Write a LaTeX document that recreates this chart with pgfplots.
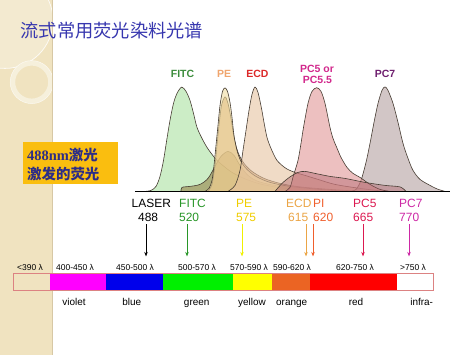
\documentclass[border=0pt]{standalone}
\usepackage{pgfplots}
\pgfplotsset{compat=1.18}
\usepackage{fontspec}
\setmainfont{Liberation Sans}
\newfontfamily\cjk{Noto Sans CJK SC}
\newfontfamily\tnr{Liberation Serif}
\usetikzlibrary{arrows.meta}
\definecolor{strip}{RGB}{240,227,192}
\definecolor{stripl}{RGB}{246,240,220}
\definecolor{stripe}{RGB}{215,200,165}
\definecolor{titleblue}{RGB}{55,55,175}
\definecolor{boxc}{RGB}{250,190,15}
\definecolor{boxt}{RGB}{45,45,135}
\definecolor{outl}{RGB}{70,60,50}
\definecolor{cfitc}{RGB}{170,225,160}
\definecolor{cpe}{RGB}{240,220,160}
\definecolor{cpeb}{RGB}{205,150,90}
\definecolor{chump}{RGB}{140,110,50}
\definecolor{cecd}{RGB}{230,195,160}
\definecolor{cpc5}{RGB}{225,150,150}
\definecolor{cpc5t}{RGB}{170,90,100}
\definecolor{cpc7}{RGB}{180,160,160}
\definecolor{lfitc}{RGB}{60,140,60}
\definecolor{lpe}{RGB}{240,165,110}
\definecolor{lecd}{RGB}{220,40,40}
\definecolor{lpc5}{RGB}{210,40,140}
\definecolor{lpc7}{RGB}{110,30,110}
\definecolor{afitc}{RGB}{40,150,40}
\definecolor{ape}{RGB}{240,205,0}
\definecolor{apea}{RGB}{240,240,0}
\definecolor{aecd}{RGB}{235,165,70}
\definecolor{api}{RGB}{240,95,45}
\definecolor{apc5}{RGB}{220,25,80}
\definecolor{apc7}{RGB}{205,40,165}
\definecolor{cviolet}{RGB}{255,0,255}
\definecolor{cblue}{RGB}{0,0,235}
\definecolor{cgreen}{RGB}{0,240,0}
\definecolor{cyellow}{RGB}{255,255,0}
\definecolor{corange}{RGB}{235,100,35}
\definecolor{cred}{RGB}{255,0,0}
\definecolor{barout}{RGB}{220,130,130}
\begin{document}
\begin{tikzpicture}
\begin{axis}[x=1bp,y=1bp,y dir=reverse,xmin=0,xmax=474,ymin=0,ymax=355,
  hide axis,clip=false,scale only axis]
% background
\addplot[fill=white,draw=none] coordinates {(0,0)(474,0)(474,355)(0,355)} -- cycle;
\addplot[fill=strip,draw=none] coordinates {(0,0)(52,0)(52,355)(0,355)} -- cycle;
\begin{scope}
\clip (axis cs:0,0) rectangle (axis cs:52,355);
\fill[stripl,opacity=0.6] (axis cs:5,20) circle [radius=48bp];
\draw[white,opacity=0.8,line width=0.8pt] (axis cs:5,20) circle [radius=48bp];
\draw[stripl,line width=5pt] (axis cs:31.7,81.7) circle [radius=19bp];
\draw[white,opacity=0.7,line width=0.5pt] (axis cs:31.7,81.7) circle [radius=21.5bp];
\end{scope}
\addplot[draw=stripe,line width=0.8pt] coordinates {(52.5,0)(52.5,355)};
% title
\node[anchor=west,text=titleblue,inner sep=0pt] at (axis cs:20.5,30) {\cjk\fontsize{18.3}{20}\selectfont 流式常用荧光染料光谱};
% box
\addplot[fill=boxc,draw=none] coordinates {(23,142)(118,142)(118,184)(23,184)} -- cycle;
\node[anchor=west,text=boxt,inner sep=0pt] at (axis cs:27,155) {\fontsize{14.5}{16}\selectfont{\tnr\bfseries 488nm}{\cjk\bfseries 激光}};
\node[anchor=west,text=boxt,inner sep=0pt] at (axis cs:27,174) {\cjk\bfseries\fontsize{14.5}{16}\selectfont 激发的荧光};
% spectra
\addplot[fill=cfitc,fill opacity=0.6,draw=outl,line width=0.6pt,smooth,tension=0.5] coordinates {
(145,191)(151,190)(156,186)(160,176)(163.5,160)(167,138)(170,120)(173.5,103)(177,93)(181.7,86.7)(186,91)(190,100)(193.5,113)(197,127)(202,138)(207,147)(212,154)(217,160)(224,166)(232,172)(244,178)(260,183.5)(282,187.5)(310,189.5)(340,191)} -- cycle;
\addplot[fill=chump,fill opacity=0.5,draw=outl,line width=0.6pt,smooth,tension=0.5] coordinates {
(181,191)(182,187)(190,186)(200,184)(208,178)(215,166)(221,156)(228,151)(234,155)(240,165)(248,175)(258,181)(275,185)(300,188)(330,190)(361,191)} -- cycle;
\addplot[fill=cpeb,fill opacity=0.6,draw=outl,line width=0.6pt,smooth,tension=0.5] coordinates {
(208,191)(212,184)(215,165)(217,145)(219,125)(221.5,105)(225,96.5)(228,103)(231,118)(234,137)(238,152)(244,163)(252,171)(264,178)(280,183)(300,186.5)(330,189)(361,191)} -- cycle;
\addplot[fill=cpe,fill opacity=0.6,draw=outl,line width=0.6pt,smooth,tension=0.5] coordinates {
(205,191)(209,188)(212,180)(214,165)(216,145)(218,125)(220,105)(222.5,91)(225,87.5)(227.5,91)(230,102)(232,117)(234,135)(237,150)(241,161)(247,169)(256,176)(270,182)(290,186)(320,189)(350,191)} -- cycle;
\addplot[fill=cecd,fill opacity=0.6,draw=outl,line width=0.6pt,smooth,tension=0.5] coordinates {
(228,191)(235,185)(240,170)(243,150)(246,130)(249,110)(252,94)(255,86.7)(258,92)(261.5,108)(264,122)(267,137)(271,148)(277,160)(286,168)(295,172)(305,175)(318,179)(335,184)(360,188)(385,191)} -- cycle;
\addplot[fill=cpc7,fill opacity=0.6,draw=outl,line width=0.6pt,smooth,tension=0.5] coordinates {
(350,191)(356,189)(361,180)(366,162)(370,143)(374,122)(378,103)(382,90)(385,86.5)(388,90)(393,103)(398,122)(403,143)(408,158)(413,170)(420,179)(430,185)(437,188.5)(445,191)} -- cycle;
\addplot[fill=cpc5,fill opacity=0.6,draw=outl,line width=0.6pt,smooth,tension=0.5] coordinates {
(285,191)(290,187)(293.5,175)(298,160)(301,143)(303.5,127)(308,103)(312,91)(316.7,87.3)(321,91)(325,103)(330,127)(333,138)(336.7,147)(341,157)(347,167)(353,173)(360,177)(370,184)(380,189)(390,191)} -- cycle;
\addplot[fill=cpc5t,fill opacity=0.4,draw=outl,line width=0.6pt,smooth,tension=0.5] coordinates {
(275,191)(282,183)(290,176.5)(298,172)(305,171)(315,173)(330,176)(345,178)(365,182)(385,185)(400,186.5)(406,191)} -- cycle;
% baseline
\addplot[black,line width=1.2pt] coordinates {(135,191.5)(450,191.5)};
% curve labels
\node[text=lfitc,font=\fontsize{10.5}{12}\selectfont\bfseries] at (axis cs:182.5,74) {FITC};
\node[text=lpe,font=\fontsize{10.5}{12}\selectfont\bfseries] at (axis cs:224,74) {PE};
\node[text=lecd,font=\fontsize{10.5}{12}\selectfont\bfseries] at (axis cs:257.5,74) {ECD};
\node[text=lpc5,font=\fontsize{10.5}{12}\selectfont\bfseries] at (axis cs:317,68.5) {PC5 or};
\node[text=lpc5,font=\fontsize{10.5}{12}\selectfont\bfseries] at (axis cs:317.5,80) {PC5.5};
\node[text=lpc7,font=\fontsize{10.5}{12}\selectfont\bfseries] at (axis cs:385,74) {PC7};
% emission labels
\tikzset{lab/.style={anchor=west,inner sep=0pt,font=\fontsize{12}{14}\selectfont}}
\node[lab,text=black] at (axis cs:131.5,203) {LASER};
\node[lab,text=black] at (axis cs:138,217) {488};
\node[lab,text=afitc] at (axis cs:179,203) {FITC};
\node[lab,text=afitc] at (axis cs:179,217) {520};
\node[lab,text=ape] at (axis cs:236,203) {PE};
\node[lab,text=ape] at (axis cs:236,217) {575};
\node[lab,text=aecd] at (axis cs:286,203) {ECD};
\node[lab,text=aecd] at (axis cs:288,217) {615};
\node[lab,text=api] at (axis cs:313,203) {PI};
\node[lab,text=api] at (axis cs:313,217) {620};
\node[lab,text=apc5] at (axis cs:353,203) {PC5};
\node[lab,text=apc5] at (axis cs:353,217) {665};
\node[lab,text=apc7] at (axis cs:399,203) {PC7};
\node[lab,text=apc7] at (axis cs:399,217) {770};
% arrows
\tikzset{arr/.style={line width=0.6pt,-{Stealth[length=4.5pt,width=3.5pt]}}}
\addplot[arr,black] coordinates {(146,224)(146,256)};
\addplot[arr,afitc] coordinates {(187,224)(187,256)};
\addplot[arr,apea] coordinates {(242,224)(242,256)};
\addplot[arr,aecd] coordinates {(306,224)(306,256)};
\addplot[arr,api] coordinates {(313,224)(313,256)};
\addplot[arr,apc5] coordinates {(363,224)(363,256)};
\addplot[arr,apc7] coordinates {(409,224)(409,256)};
% range labels
\tikzset{rl/.style={anchor=base,inner sep=0pt,font=\fontsize{8.5}{10}\selectfont}}
\node[rl] at (axis cs:30,270) {<390 λ};
\node[rl] at (axis cs:75,270) {400-450 λ};
\node[rl] at (axis cs:135,270) {450-500 λ};
\node[rl] at (axis cs:197,270) {500-570 λ};
\node[rl] at (axis cs:249,270) {570-590 λ};
\node[rl] at (axis cs:292,270) {590-620 λ};
\node[rl] at (axis cs:355,270) {620-750 λ};
\node[rl] at (axis cs:413,270) {>750 λ};
% colour bar
\addplot[fill=cviolet,draw=none] coordinates {(50,273.3)(106,273.3)(106,290)(50,290)} -- cycle;
\addplot[fill=cblue,draw=none] coordinates {(106,273.3)(162.7,273.3)(162.7,290)(106,290)} -- cycle;
\addplot[fill=cgreen,draw=none] coordinates {(162.7,273.3)(232.7,273.3)(232.7,290)(162.7,290)} -- cycle;
\addplot[fill=cyellow,draw=none] coordinates {(232.7,273.3)(271.7,273.3)(271.7,290)(232.7,290)} -- cycle;
\addplot[fill=corange,draw=none] coordinates {(271.7,273.3)(310,273.3)(310,290)(271.7,290)} -- cycle;
\addplot[fill=cred,draw=none] coordinates {(310,273.3)(397.3,273.3)(397.3,290)(310,290)} -- cycle;
\addplot[draw=barout,line width=0.7pt] coordinates {(13.3,273.3)(433.3,273.3)(433.3,290)(13.3,290)} -- cycle;
% colour names
\tikzset{cn/.style={anchor=base,inner sep=0pt,font=\fontsize{10}{12}\selectfont}}
\node[cn] at (axis cs:74,305.5) {violet};
\node[cn] at (axis cs:131.7,305.5) {blue};
\node[cn] at (axis cs:196.7,305.5) {green};
\node[cn] at (axis cs:252,305.5) {yellow};
\node[cn] at (axis cs:291.7,305.5) {orange};
\node[cn] at (axis cs:356,305.5) {red};
\node[cn] at (axis cs:421.7,305.5) {infra-};
\end{axis}
\end{tikzpicture}
\end{document}
